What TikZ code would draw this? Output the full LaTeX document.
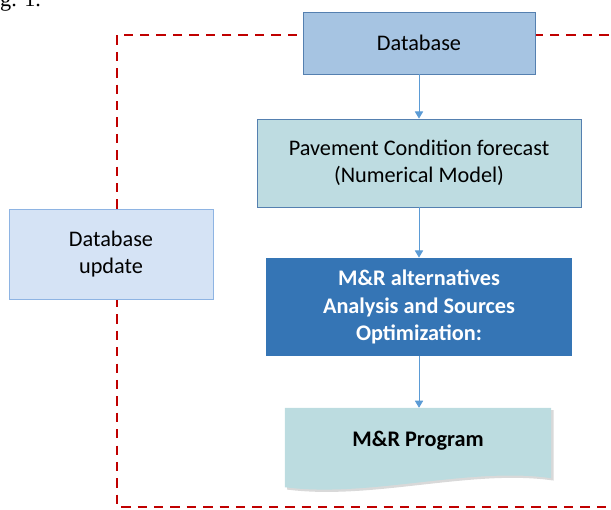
\documentclass[tikz,border=0pt]{standalone}
\usepackage{fontspec}
\setmainfont{Carlito}
\newfontfamily\capfont{Liberation Serif}
\usetikzlibrary{arrows.meta, positioning, shadows, calc, backgrounds}
\definecolor{dbblue}{HTML}{A6C4E2}
\definecolor{dbline}{HTML}{5580B0}
\definecolor{fcteal}{HTML}{BEDCE1}
\definecolor{altblue}{HTML}{3575B5}
\definecolor{progteal}{HTML}{BCDCE0}
\definecolor{updblue}{HTML}{D5E3F5}
\definecolor{updline}{HTML}{8EB4E3}
\definecolor{arrowblue}{HTML}{5B9BD5}
\definecolor{loopred}{HTML}{C00000}

\begin{document}
\begin{tikzpicture}[x=0.03cm, y=-0.03cm,
    box/.style={draw=dbline, line width=0.8pt, align=center, inner sep=0pt,
        font=\fontsize{19}{23.5}\selectfont},
    flow/.style={draw=arrowblue, line width=0.7pt, -{Triangle[length=6pt,width=7pt]}}]
\useasboundingbox (0,0) rectangle (611,510);

% caption fragment
\node[anchor=base west, inner sep=0pt, font=\capfont\fontsize{19}{23}\selectfont] (cap) at (0,7) {g. 1.};

% update loop
\coordinate (tr) at (625,35);
\coordinate (tl) at (117,35);
\coordinate (bl) at (117,507);
\coordinate (br) at (625,507);
\draw[loopred, line width=1.6pt, dash pattern=on 8pt off 6pt] (tr) -- (tl) -- (bl) -- (br);

% main chain
\node[box, fill=dbblue, minimum width=6.96cm, minimum height=1.86cm] (db) at (419,43) {Database};
\node[box, fill=fcteal, minimum width=9.72cm, minimum height=2.64cm] (forecast) at (419,163)
    {Pavement Condition forecast\\(Numerical Model)};
\node[box, draw=none, fill=altblue, text=white, font=\fontsize{19}{23.5}\selectfont\bfseries,
    minimum width=9.18cm, minimum height=2.94cm] (alts) at (419,307)
    {M\&R alternatives\\Analysis and Sources\\Optimization:};
\node[align=center, inner sep=0pt, font=\fontsize{19}{23.5}\selectfont\bfseries,
    minimum width=7.98cm, minimum height=1.98cm] (program) at (418,441) {M\&R Program};
\begin{scope}[on background layer]
\path[fill=progteal, drop shadow={opacity=0.3, shadow xshift=2pt, shadow yshift=-2pt}]
    (program.north west) -- (program.north east) -- ($(program.south east)+(0,4)$)
    .. controls ($(program.south east)+(-81,-8)$) and ($(program.south west)+(85,24)$)
    .. ($(program.south west)+(0,13)$) -- cycle;
\end{scope}

% side box
\node[box, draw=updline, fill=updblue, minimum width=6.12cm, minimum height=2.7cm] (update) at (111,254)
    {Database\\update};

\draw[flow] (db) -- (forecast);
\draw[flow] (forecast) -- (alts);
\draw[flow] (alts.south) -- (alts.south |- program.north);
\end{tikzpicture}
\end{document}
